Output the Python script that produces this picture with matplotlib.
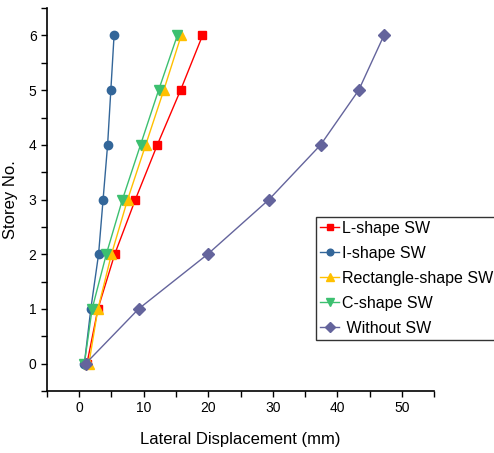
import matplotlib.pyplot as plt
from matplotlib.ticker import MultipleLocator

plt.rcParams['font.family'] = ['Liberation Sans', 'DejaVu Sans']

# Storey levels and lateral displacement (mm) per model
storey = [0, 1, 2, 3, 4, 5, 6]
l_shape = [1.2, 2.9, 5.5, 8.7, 12.1, 15.7, 19.1]
i_shape = [0.8, 1.8, 3.0, 3.7, 4.4, 4.9, 5.4]
rect_shape = [1.5, 2.9, 5.0, 7.5, 10.3, 13.1, 15.8]
c_shape = [0.8, 2.0, 4.2, 6.7, 9.5, 12.3, 15.2]
without_sw = [1.0, 9.2, 19.9, 29.4, 37.4, 43.3, 47.2]

labels = ['L-shape SW', 'I-shape SW', 'Rectangle-shape SW', 'C-shape SW', ' Without SW']

fig = plt.figure(figsize=(4.94, 4.53), dpi=100)
ax = fig.add_axes([0.095, 0.137, 0.784, 0.845])

ax.plot(l_shape, storey, color='#ff0000', marker='s', ms=6, lw=1, label=labels[0])
ax.plot(i_shape, storey, color='#336699', marker='o', ms=6, lw=1, label=labels[1])
ax.plot(rect_shape, storey, color='#ffc000', marker='^', ms=7, lw=1, label=labels[2])
ax.plot(c_shape, storey, color='#3cc070', marker='v', ms=7, lw=1, label=labels[3])
ax.plot(without_sw, storey, color='#64649c', marker='D', ms=6, lw=1, label=labels[4])

ax.set_xlim(-5, 55)
ax.set_ylim(-0.5, 6.5)
ax.xaxis.set_major_locator(MultipleLocator(10))
ax.xaxis.set_minor_locator(MultipleLocator(5))
ax.yaxis.set_major_locator(MultipleLocator(1))
ax.yaxis.set_minor_locator(MultipleLocator(0.5))
ax.tick_params(which='both', direction='out', length=4, width=1, labelsize=10)

for s in ['top', 'right']:
    ax.spines[s].set_visible(False)
ax.spines['left'].set_linewidth(1.2)
ax.spines['bottom'].set_linewidth(1.2)

ax.set_xlabel('Lateral Displacement (mm)', fontsize=12, labelpad=12)
ax.set_ylabel('Storey No.', fontsize=12, labelpad=8)

leg = ax.legend(loc='upper left', bbox_to_anchor=(0.64, 0.521),
                bbox_transform=fig.transFigure, fontsize=11.5, frameon=True,
                fancybox=False, edgecolor='black', handlelength=1.2,
                handletextpad=0.15, borderpad=0.25, labelspacing=0.62,
                borderaxespad=0, markerscale=0.8)
leg.get_frame().set_linewidth(1.0)

fig.savefig('out.png', dpi=100)
